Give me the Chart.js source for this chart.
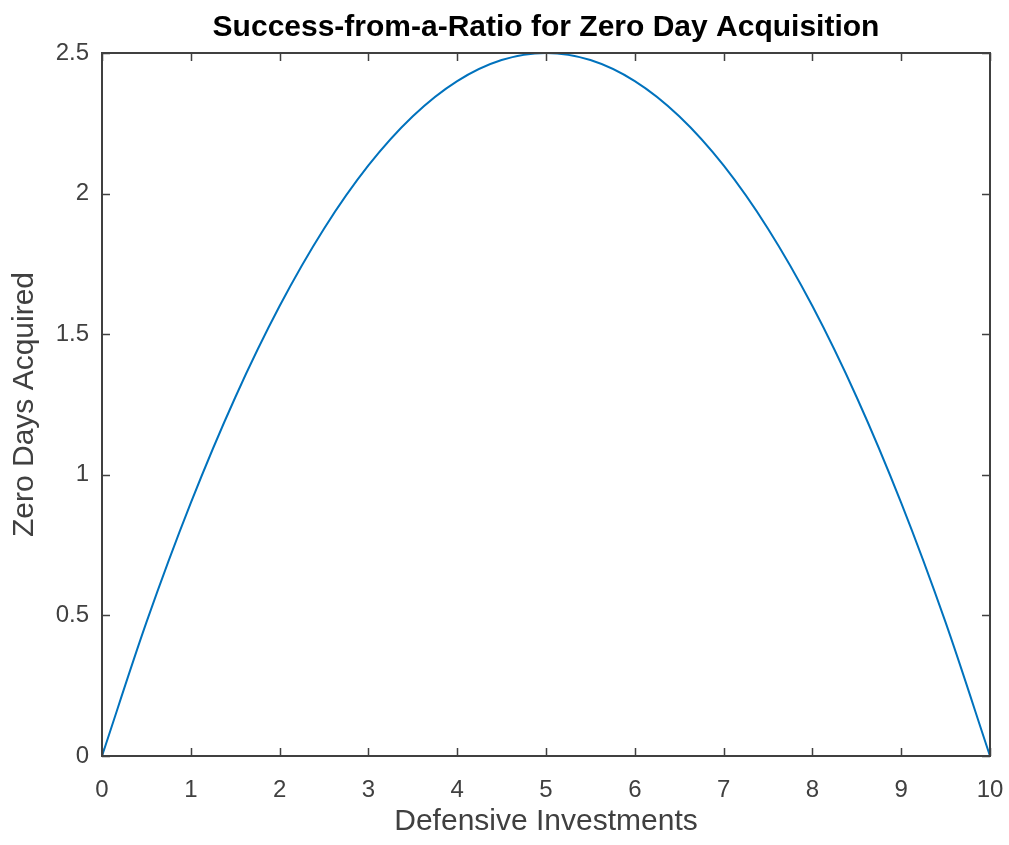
<!DOCTYPE html>
<html>
<head>
<meta charset="utf-8">
<script src="https://cdn.jsdelivr.net/npm/chart.js@4/dist/chart.umd.min.js"></script>
<style>
  html, body { margin: 0; padding: 0; background: #fff; }
  #wrap { width: 1009px; height: 845px; }
</style>
</head>
<body>
<div id="wrap"><canvas id="zeroDay" width="1009" height="845"></canvas></div>
<script>
// values
const investments = [0, 0.5, 1, 1.5, 2, 2.5, 3, 3.5, 4, 4.5, 5, 5.5, 6, 6.5, 7, 7.5, 8, 8.5, 9, 9.5, 10];
const zeroDays = [0, 0.475, 0.9, 1.275, 1.6, 1.875, 2.1, 2.275, 2.4, 2.475, 2.5, 2.475, 2.4, 2.275, 2.1, 1.875, 1.6, 1.275, 0.9, 0.475, 0];
const xTicks = [0, 1, 2, 3, 4, 5, 6, 7, 8, 9, 10];
const yTicks = [0, 0.5, 1, 1.5, 2, 2.5];

const axisColor = '#404040';
const fontFamily = '"Liberation Sans", Arial, sans-serif';

// matlab style box with inward ticks
const boxTicks = {
  id: 'boxTicks',
  afterDatasetsDraw(chart) {
    const {ctx, chartArea: a, scales} = chart;
    const len = 8;
    ctx.save();
    ctx.strokeStyle = axisColor;
    ctx.lineWidth = 1.5;
    ctx.beginPath();
    xTicks.forEach(v => {
      const px = Math.round(scales.x.getPixelForValue(v)) + 0.5;
      ctx.moveTo(px, a.bottom); ctx.lineTo(px, a.bottom - len);
      ctx.moveTo(px, a.top); ctx.lineTo(px, a.top + len);
    });
    yTicks.forEach(v => {
      const py = Math.round(scales.y.getPixelForValue(v)) + 0.5;
      ctx.moveTo(a.left, py); ctx.lineTo(a.left + len, py);
      ctx.moveTo(a.right, py); ctx.lineTo(a.right - len, py);
    });
    ctx.stroke();
    ctx.lineWidth = 2;
    ctx.strokeRect(a.left, a.top, a.right - a.left, a.bottom - a.top);
    ctx.restore();
  }
};

const data = {
  datasets: [{
    label: 'Zero Days',
    data: investments.map((x, i) => ({x: x, y: zeroDays[i]})),
    showLine: true,
    borderColor: '#0072BD',
    borderWidth: 2,
    pointRadius: 0,
    cubicInterpolationMode: 'monotone',
    fill: false
  }]
};

const config = {
  type: 'scatter',
  data: data,
  options: {
    responsive: false,
    animation: false,
    devicePixelRatio: 1,
    layout: { padding: { left: 0, right: 19, top: 0, bottom: 0 } },
    plugins: {
      legend: { display: false },
      tooltip: { enabled: false },
      title: {
        display: true,
        fullSize: false,
        text: 'Success-from-a-Ratio for Zero Day Acquisition',
        color: '#000',
        font: { family: fontFamily, size: 30, weight: 'bold' },
        padding: { top: 10, bottom: 7 }
      }
    },
    scales: {
      x: {
        type: 'linear',
        min: 0,
        max: 10,
        afterFit(s) { s.height = 89; s.paddingLeft = 0; s.paddingRight = 0; },
        afterBuildTicks(s) { s.ticks = xTicks.map(v => ({value: v})); },
        grid: { display: false, drawTicks: false },
        border: { display: false },
        ticks: {
          color: axisColor, padding: 20,
          font: { family: fontFamily, size: 24 },
          callback: v => String(v)
        },
        title: {
          display: true,
          text: 'Defensive Investments',
          color: axisColor,
          font: { family: fontFamily, size: 30 },
          padding: { top: 0, bottom: 5 }
        }
      },
      y: {
        type: 'linear',
        min: 0,
        max: 2.5,
        afterFit(s) { s.width = 102; s.paddingTop = 0; s.paddingBottom = 0; },
        afterBuildTicks(s) { s.ticks = yTicks.map(v => ({value: v})); },
        grid: { display: false, drawTicks: false },
        border: { display: false },
        ticks: {
          color: axisColor, padding: 13,
          font: { family: fontFamily, size: 24 },
          callback: v => String(v)
        },
        title: {
          display: true,
          text: 'Zero Days Acquired',
          color: axisColor,
          font: { family: fontFamily, size: 30 },
          padding: { top: 7, bottom: 0 }
        }
      }
    }
  },
  plugins: [boxTicks]
};

const zeroDayChart = new Chart(document.getElementById('zeroDay'), config);
</script>
</body>
</html>
